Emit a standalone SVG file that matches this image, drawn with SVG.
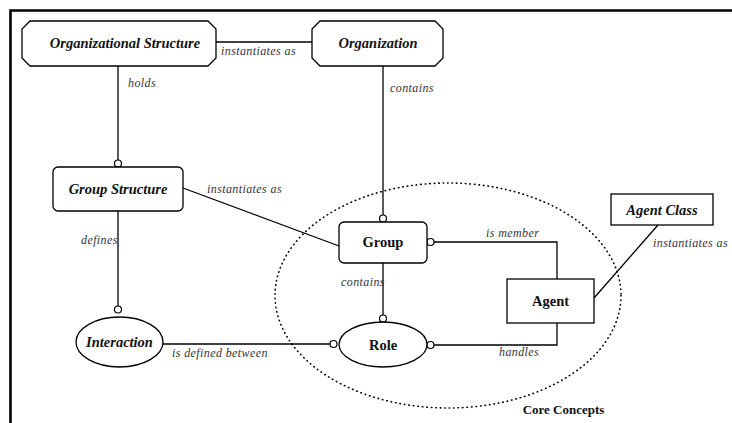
<svg xmlns="http://www.w3.org/2000/svg" width="732" height="423" viewBox="0 0 732 423">
<style>
.shape{fill:#fff;stroke:#000;stroke-width:1.3}
text{font-family:'Liberation Serif','DejaVu Serif',serif}
.t{font-weight:bold;font-size:14.5px;text-anchor:middle;fill:#111}
.ti{font-style:italic}
.lbl{font-style:italic;font-size:12px;letter-spacing:0.4px;fill:#333}
.ln{fill:none;stroke:#000;stroke-width:1.3}
.end{fill:#fff;stroke:#000;stroke-width:1.2}
.dot{fill:none;stroke:#000;stroke-width:1.6;stroke-dasharray:0.5 4;stroke-linecap:round}
</style>
<rect width="732" height="423" fill="#fff"/>
<path d="M10.5,423 V10.5 H732" fill="none" stroke="#000" stroke-width="2.6"/>

<g id="core-concepts">
<ellipse class="dot" cx="448" cy="295.5" rx="173" ry="112.5"/>
<text class="t" x="563.5" y="414" style="font-size:13px">Core Concepts</text>
</g>

<g id="connectors">
<line class="ln" x1="216" y1="42" x2="312" y2="42"/>
<text class="lbl" x="221" y="55">instantiates as</text>
<line class="ln" x1="118" y1="66" x2="118" y2="160"/>
<circle class="end" cx="118" cy="163.5" r="3.5"/>
<text class="lbl" x="128" y="87">holds</text>
<line class="ln" x1="383" y1="66" x2="383" y2="215"/>
<circle class="end" cx="383" cy="218.5" r="3.5"/>
<text class="lbl" x="390" y="92">contains</text>
<line class="ln" x1="183" y1="188" x2="339" y2="246"/>
<text class="lbl" x="207" y="193">instantiates as</text>
<line class="ln" x1="118" y1="211" x2="118" y2="306"/>
<circle class="end" cx="118" cy="309.5" r="3.5"/>
<text class="lbl" x="81" y="244">defines</text>
<line class="ln" x1="163" y1="344" x2="330" y2="344"/>
<circle class="end" cx="333.5" cy="344" r="3.5"/>
<text class="lbl" x="172" y="357">is defined between</text>
<polyline class="ln" points="434,242 557,242 557,279"/>
<circle class="end" cx="430.5" cy="242" r="3.5"/>
<text class="lbl" x="486" y="237">is member</text>
<line class="ln" x1="383" y1="263" x2="383" y2="315"/>
<circle class="end" cx="383" cy="318.5" r="3.5"/>
<text class="lbl" x="341" y="286">contains</text>
<polyline class="ln" points="434,345 557,345 557,323"/>
<circle class="end" cx="430.5" cy="345" r="3.5"/>
<text class="lbl" x="499" y="356">handles</text>
<line class="ln" x1="658" y1="225" x2="594" y2="298"/>
<text class="lbl" x="653" y="247">instantiates as</text>
</g>

<g id="organizational-structure">
<polygon class="shape" points="30,21 208,21 216,29 216,58 208,66 30,66 22,58 22,29"/>
<text class="t ti" x="125" y="48">Organizational Structure</text>
</g>
<g id="organization">
<polygon class="shape" points="320,21 435,21 443,29 443,58 435,66 320,66 312,58 312,29"/>
<text class="t ti" x="378" y="48">Organization</text>
</g>
<g id="group-structure">
<rect class="shape" x="53" y="167" width="130" height="44" rx="5"/>
<text class="t ti" x="118" y="194">Group Structure</text>
</g>
<g id="group">
<rect class="shape" x="339" y="222" width="88" height="41" rx="5"/>
<text class="t" x="383" y="247">Group</text>
</g>
<g id="interaction">
<ellipse class="shape" cx="119.5" cy="342" rx="43.5" ry="25"/>
<text class="t ti" x="119.5" y="347">Interaction</text>
</g>
<g id="role">
<ellipse class="shape" cx="383" cy="344.5" rx="44" ry="22.5"/>
<text class="t" x="383" y="349.5">Role</text>
</g>
<g id="agent">
<rect class="shape" x="507" y="279" width="87" height="44"/>
<text class="t" x="550.5" y="306">Agent</text>
</g>
<g id="agent-class">
<rect class="shape" x="611" y="194" width="102" height="31"/>
<text class="t ti" x="662" y="214.5">Agent Class</text>
</g>
</svg>
